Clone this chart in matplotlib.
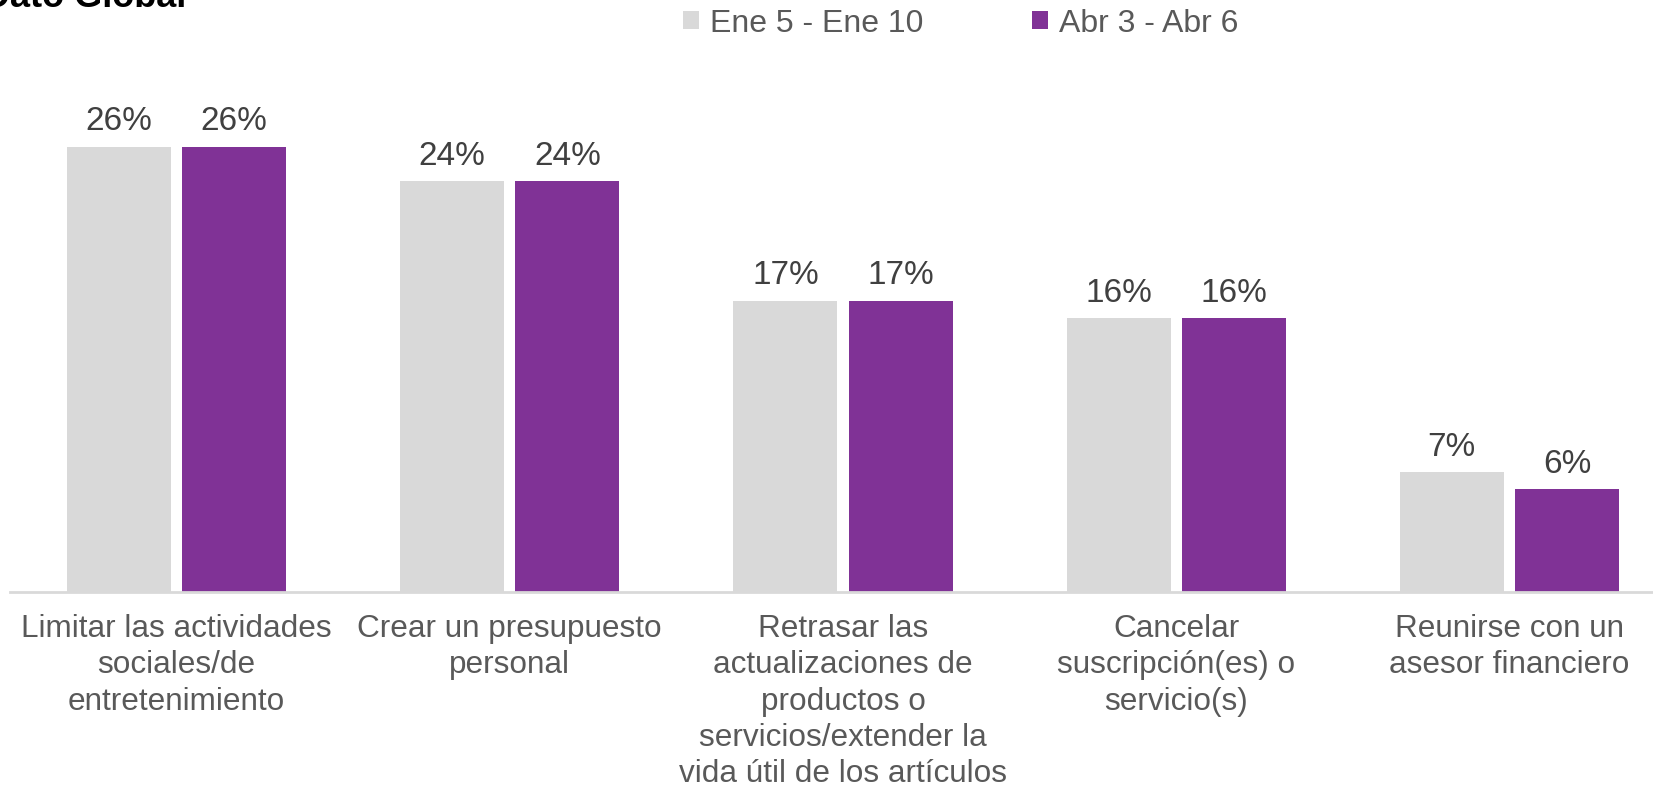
import numpy as np
import matplotlib
matplotlib.use("Agg")
import matplotlib.pyplot as plt
from matplotlib.patches import Patch

plt.rcParams['font.family'] = ['Liberation Sans', 'DejaVu Sans']

# Survey data: share of respondents taking each action
categories = [
    "Limitar las actividades\nsociales/de\nentretenimiento",
    "Crear un presupuesto\npersonal",
    "Retrasar las\nactualizaciones de\nproductos o\nservicios/extender la\nvida útil de los artículos",
    "Cancelar\nsuscripción(es) o\nservicio(s)",
    "Reunirse con un\nasesor financiero",
]
series_names = ["Ene 5 - Ene 10", "Abr 3 - Abr 6"]
ene_values = [26, 24, 17, 16, 7]
abr_values = [26, 24, 17, 16, 6]

colors = ["#D9D9D9", "#803296"]
text_color = "#595959"

fig = plt.figure(figsize=(16.53, 7.90), dpi=100)
ax = fig.add_axes([0.006, 0.2506, 1.008, 0.7494])

x = np.arange(len(categories))
width = 0.312
offset = 0.173

for vals, sign, color in [(ene_values, -1, colors[0]), (abr_values, 1, colors[1])]:
    bars = ax.bar(x + sign * offset, vals, width, color=color, zorder=2)
    for b, v in zip(bars, vals):
        ax.annotate(f"{v}%", (b.get_x() + b.get_width() / 2, b.get_height()),
                    xytext=(0, 7), textcoords="offset points",
                    ha="center", va="bottom", fontsize=24, color="#404040")

ax.set_xlim(-0.5, len(categories) - 0.5)
ax.set_ylim(0, 34.6)
ax.set_yticks([])
ax.set_xticks(x)
ax.set_xticklabels(categories, fontsize=22.7, color=text_color, linespacing=1.27)
ax.tick_params(axis="x", length=0, pad=16)
for side in ["top", "right", "left"]:
    ax.spines[side].set_visible(False)
ax.spines["bottom"].set_color("#D9D9D9")
ax.spines["bottom"].set_linewidth(2)

# Legend across the top
handles = [Patch(facecolor=c, edgecolor="none") for c in colors]
fig.legend(handles, series_names, loc="center", bbox_to_anchor=(0.581, 0.970),
           ncol=2, frameon=False, fontsize=23, labelcolor=text_color,
           handlelength=0.5, handleheight=0.5, handletextpad=0.35,
           columnspacing=3.4)

# Title (partly above the top edge)
fig.text(186 / 1653, 1 - 7 / 790, "Dato Global", ha="right", va="baseline",
         fontsize=26, fontweight="bold", color="black")

fig.savefig("out.png", dpi=100)
